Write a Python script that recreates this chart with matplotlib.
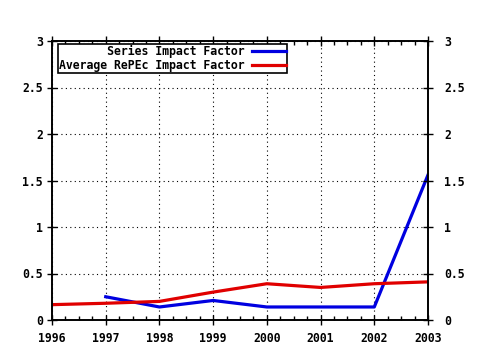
import matplotlib
matplotlib.use('Agg')
import matplotlib.pyplot as plt
from matplotlib.ticker import MultipleLocator, FormatStrFormatter, FuncFormatter

years_series = [1997, 1998, 1999, 2000, 2001, 2002, 2003]
series_if = [0.25, 0.14, 0.21, 0.14, 0.14, 0.14, 1.56]

years_repec = [1996, 1997, 1998, 1999, 2000, 2001, 2002, 2003]
repec_if = [0.165, 0.18, 0.20, 0.30, 0.39, 0.35, 0.39, 0.41]

labels = ['Series Impact Factor', 'Average RePEc Impact Factor']

plt.rcParams['font.family'] = 'DejaVu Sans Mono'
plt.rcParams['font.weight'] = 'bold'
plt.rcParams['font.size'] = 8.3

fig = plt.figure(figsize=(4.8, 3.5), dpi=100)
ax = fig.add_axes([52 / 480, 30 / 350, 376 / 480, 279 / 350])

# pad the shorter label so the monospace labels end flush right
width = max(len(s) for s in labels)
padded = [s.rjust(width) for s in labels]

ax.plot(years_series, series_if, color='#0000e0', lw=2.3, label=padded[0])
ax.plot(years_repec, repec_if, color='#e00000', lw=2.3, label=padded[1])

ax.set_xlim(1996, 2003)
ax.set_ylim(0, 3)
ax.xaxis.set_major_locator(MultipleLocator(1))
ax.xaxis.set_minor_locator(MultipleLocator(0.25))
ax.xaxis.set_major_formatter(FormatStrFormatter('%d'))
ax.yaxis.set_major_locator(MultipleLocator(0.5))
fmt = FuncFormatter(lambda v, p: '%g' % v)
ax.yaxis.set_major_formatter(fmt)

ax.grid(True, which='major', color='black', linestyle=(0, (1, 3)), lw=0.8)
for s in ax.spines.values():
    s.set_linewidth(1.2)

ax.tick_params(axis='x', which='major', direction='inout', length=7, width=1,
               top=True, pad=5)
ax.tick_params(axis='x', which='minor', direction='in', length=3, width=1, top=True)
ax.tick_params(axis='y', which='major', direction='inout', length=7, width=1,
               right=False, pad=3)

# right-hand axis copy with its own label spacing
ax2 = ax.twinx()
ax2.set_ylim(ax.get_ylim())
ax2.yaxis.set_major_locator(MultipleLocator(0.5))
ax2.yaxis.set_major_formatter(fmt)
ax2.tick_params(axis='y', which='major', direction='inout', length=7, width=1, pad=8)
for s in ax2.spines.values():
    s.set_linewidth(1.2)

leg = ax.legend(loc='upper left', bbox_to_anchor=(0.016, 0.99), borderaxespad=0,
                markerfirst=False, fancybox=False, framealpha=1, edgecolor='black',
                handlelength=3.0, handletextpad=0.6, borderpad=0.1,
                labelspacing=0.05, prop={'family': 'DejaVu Sans Mono',
                                          'weight': 'bold', 'size': 8.3})
leg.get_frame().set_linewidth(1.2)
leg.set_zorder(5)

fig.savefig('out.png', dpi=100)
plt.close(fig)
